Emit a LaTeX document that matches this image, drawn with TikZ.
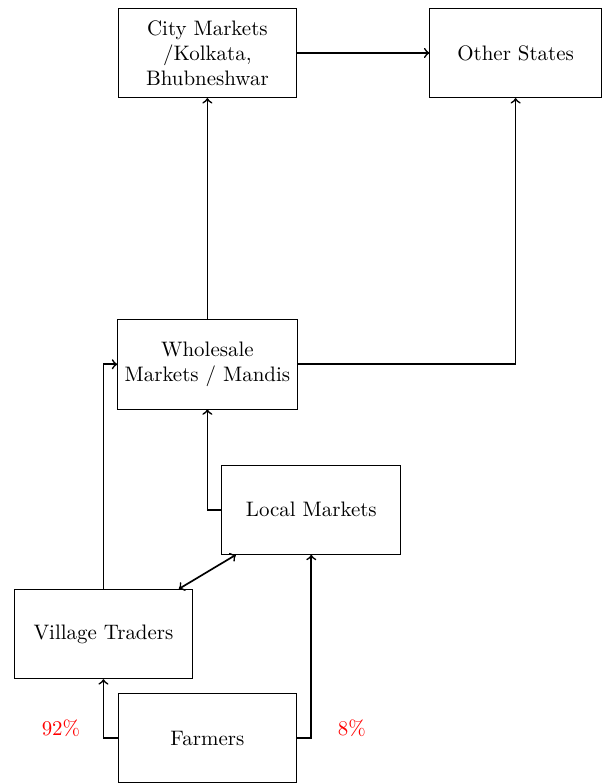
\documentclass[tikz,border=0pt]{standalone}
\usepackage{tikz}
\usetikzlibrary{arrows,positioning}

\begin{document}
\begin{tikzpicture}[>=to,auto,
                    box/.style={rectangle,draw,align=center,minimum width=3cm,minimum height=1.5cm},
                    flow/.style={->,thick},
                    share/.style={text=red}]

      \useasboundingbox (0,0) rectangle (10.112,-13.14);

      \node[box] (city) at (3.480,-0.889) {City Markets\\/Kolkata,\\Bhubneshwar};
      \node[box,minimum width=2.88cm] (other) at (8.653,-0.889) {Other States};
      \node[box] (whole) at (3.480,-6.113) {Wholesale\\Markets / Mandis};
      \node[box] (local) at (5.224,-8.553) {Local Markets};
      \node[box] (vill) at (1.736,-10.641) {Village Traders};
      \node[box] (farm) at (3.480,-12.385) {Farmers};
      \node[share] (p92) at (1.023,-12.225) {92\%};
      \node[share] (p8) at (5.903,-12.225) {8\%};

      \draw[flow] (farm.west) -| (vill.south);
      \draw[flow] (farm.east) -| (local.south);
      \draw[flow,<->] (vill) -- (local);
      \draw[flow] (vill.north) |- (whole.west);
      \draw[flow] (local.west) -| (whole.south);
      \draw[flow] (whole) -- (city);
      \draw[flow] (whole.east) -| (other.south);
      \draw[flow] (city) -- (other);
    \end{tikzpicture}
\end{document}
